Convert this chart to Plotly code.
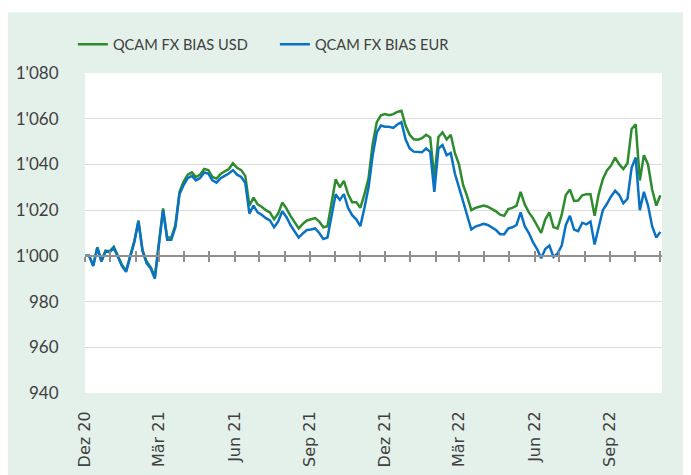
import pandas as pd
import plotly.graph_objects as go

# ---- data (5-day spacing) ----
dates = pd.date_range("2020-12-01", periods=141, freq="5D")

usd = [1000, 1000, 995.8, 1003.8, 997.8, 1002.3, 1002, 1004, 1000, 996,
       993.5, 1000.5, 1006.5, 1015.5, 1002.5, 997.5, 995, 991, 1006, 1020.8,
       1008, 1008, 1013.5, 1028, 1032.5, 1035.5, 1036.5, 1034.5, 1035.5, 1038,
       1037.5, 1034.5, 1033.8, 1035.8, 1037, 1038, 1040.5, 1038.5, 1037.5, 1035,
       1022, 1025.5, 1022.5, 1021.5, 1020, 1019, 1016, 1018.5, 1023.3, 1020.8,
       1017.5, 1015, 1012, 1014, 1015.5, 1016, 1016.5, 1015, 1012.5, 1013,
       1023, 1033.5, 1030, 1032.8, 1027, 1023.5, 1023.5, 1021, 1027, 1034,
       1049, 1058.5, 1061.5, 1062, 1061.5, 1062, 1063, 1063.5, 1057, 1053,
       1051, 1050.8, 1051.5, 1053, 1051.8, 1034, 1052, 1054, 1051, 1053,
       1045, 1040, 1031, 1026, 1020, 1021, 1021.5, 1022, 1021.5, 1020.5,
       1019.5, 1018, 1017.5, 1020.5, 1021, 1022, 1028, 1022.5, 1019, 1016.5,
       1013.5, 1010, 1016, 1019, 1012.5, 1012, 1018, 1026.6, 1029, 1024,
       1024.2, 1026.5, 1027, 1027, 1017.5, 1027, 1033.5, 1037.4, 1039.5, 1043,
       1040, 1038, 1040.5, 1055.5, 1057.5, 1033, 1044, 1040, 1029, 1022, 1026.5]

eur = [1000, 1000, 995.6, 1003.5, 997.5, 1002, 1001.5, 1003.5, 999.5, 995.5,
       993, 1000, 1006, 1015, 1002, 996.7, 994.5, 990, 1005.5, 1020,
       1007, 1007, 1012.5, 1027, 1031, 1034, 1035, 1033, 1034, 1036.5,
       1036, 1033, 1032, 1034, 1035, 1036, 1037.5, 1035.5, 1034.5, 1032,
       1018.5, 1022, 1019, 1018, 1016.5, 1015.5, 1012.5, 1015, 1019.5, 1017,
       1013.5, 1011, 1008, 1009.8, 1011.3, 1011.5, 1012, 1010, 1007.4, 1008,
       1017, 1027, 1024.5, 1027, 1021, 1017.8, 1016, 1013, 1021, 1030,
       1044, 1054, 1057, 1056.5, 1056.5, 1056, 1057.5, 1058.5, 1051, 1047,
       1045.6, 1045.5, 1045.3, 1047, 1045.5, 1028, 1047, 1048.5, 1044, 1045,
       1036, 1030, 1024, 1018.6, 1011.5, 1012.8, 1013.4, 1014, 1013.5, 1012.5,
       1011.3, 1009.5, 1009.5, 1012, 1012.5, 1013.5, 1019, 1013, 1010, 1006,
       1003, 999, 1003, 1004.5, 999.5, 1001, 1004.5, 1013.5, 1017.5, 1011.5,
       1010.8, 1014.5, 1013.8, 1015, 1005, 1012.5, 1020, 1022.8, 1026, 1028.5,
       1026.6, 1023, 1025, 1038.5, 1043, 1020, 1028, 1022, 1013, 1008, 1010.5]

tick_dates = ["2020-12-01", "2021-03-01", "2021-06-01", "2021-09-01",
              "2021-12-01", "2022-03-01", "2022-06-01", "2022-09-01"]
tick_text = ["Dez 20", "Mär 21", "Jun 21", "Sep 21",
             "Dez 21", "Mär 22", "Jun 22", "Sep 22"]

x_range = ["2020-12-01", "2022-11-03"]
y_range = [940, 1080]
base_value = 1000

GREEN = "#2e8b2e"
BLUE = "#0a72c4"
PANEL = "#e4f1ea"
TEXT = "#404040"
AXIS_GRAY = "#8f8f8f"

fig = go.Figure()
fig.add_trace(go.Scatter(x=dates, y=usd, mode="lines", name="QCAM FX BIAS USD",
                         line=dict(color=GREEN, width=2.5)))
fig.add_trace(go.Scatter(x=dates, y=eur, mode="lines", name="QCAM FX BIAS EUR",
                         line=dict(color=BLUE, width=2.5)))
# helper traces so the baseline axes (through 1'000) get drawn
for ax in ("x2", "x3"):
    fig.add_trace(go.Scatter(x=[dates[0]], y=[base_value], xaxis=ax, mode="lines",
                             showlegend=False, hoverinfo="skip",
                             line=dict(width=0, color="rgba(0,0,0,0)")))

base_pos = (base_value - y_range[0]) / (y_range[1] - y_range[0])

fig.update_layout(
    width=683, height=467,
    margin=dict(l=77, r=29, t=65, b=82, autoexpand=False),
    paper_bgcolor="white",
    plot_bgcolor="rgba(0,0,0,0)",
    separators=".'",
    font=dict(family="Lato", color=TEXT, size=15),
    showlegend=True,
    legend=dict(orientation="h", x=-0.021, xanchor="left", y=1.09, yanchor="middle",
                font=dict(family="Lato", size=14.6, color=TEXT),
                bgcolor="rgba(0,0,0,0)", entrywidth=157, entrywidthmode="pixels",
                itemwidth=30),
    xaxis=dict(type="date", range=x_range, tickvals=tick_dates, ticktext=tick_text,
               tickangle=-90, showgrid=False, showline=False, zeroline=False,
               ticks="outside", ticklen=11, tickcolor="rgba(0,0,0,0)", automargin=False,
               tickfont=dict(family="DejaVu Sans", size=16, color=TEXT)),
    xaxis2=dict(type="date", matches="x", overlaying="x", anchor="free",
                position=base_pos, showline=True, linecolor=AXIS_GRAY, linewidth=2,
                ticks="outside", ticklen=5, tickwidth=1.5, tickcolor=AXIS_GRAY,
                dtick="M1", tick0="2020-12-01", showticklabels=False,
                showgrid=False, zeroline=False, automargin=False),
    xaxis3=dict(type="date", matches="x", overlaying="x", anchor="free",
                position=base_pos, showline=False,
                ticks="inside", ticklen=5, tickwidth=1.5, tickcolor=AXIS_GRAY,
                dtick="M1", tick0="2020-12-01", showticklabels=False,
                showgrid=False, zeroline=False, automargin=False),
    yaxis=dict(range=y_range, dtick=20, tick0=940, tickformat=",d",
               showgrid=True, gridcolor="#dcdcdc", gridwidth=1.3,
               zeroline=False, showline=False, automargin=False,
               ticks="outside", ticklen=22, tickcolor="rgba(0,0,0,0)",
               tickfont=dict(family="Lato", size=17, color=TEXT)),
    shapes=[
        dict(type="rect", xref="paper", yref="paper", x0=-0.14, x1=1.06,
             y0=-0.26, y1=1.19, fillcolor=PANEL, line=dict(width=0), layer="below"),
        dict(type="rect", xref="paper", yref="paper", x0=0, x1=1,
             y0=0, y1=1, fillcolor="white", line=dict(width=0), layer="below"),
    ],
)

fig.write_html("out.html")
